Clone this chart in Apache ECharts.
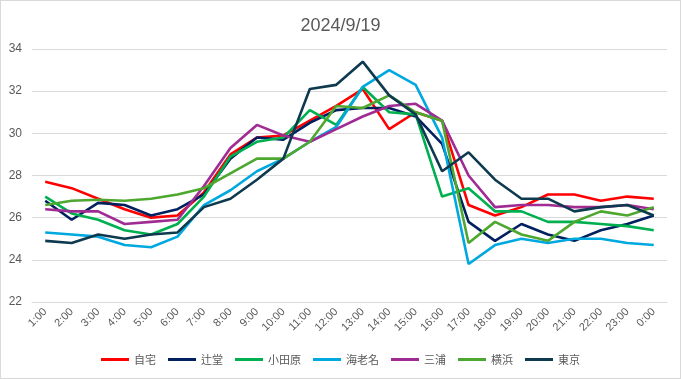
<!DOCTYPE html>
<html><head><meta charset="utf-8">
<script src="https://cdn.jsdelivr.net/npm/echarts@6/dist/echarts.min.js"></script>
<style>html,body{margin:0;padding:0;background:#fff}#c{width:679px;height:377px;border:1px solid #d9d9d9}</style>
</head><body><div id="c"></div>
<script>
const hours = ['1:00','2:00','3:00','4:00','5:00','6:00','7:00','8:00','9:00','10:00','11:00','12:00','13:00','14:00','15:00','16:00','17:00','18:00','19:00','20:00','21:00','22:00','23:00','0:00'];
const jitaku   = [27.7,27.4,26.9,26.4,26.0,26.1,27.2,29.0,29.8,29.9,30.6,31.3,32.1,30.2,31.0,30.6,26.6,26.1,26.5,27.1,27.1,26.8,27.0,26.9];
const tsujido  = [26.8,25.9,26.7,26.6,26.1,26.4,27.1,28.8,29.8,29.7,30.5,31.1,31.2,31.2,30.8,29.5,25.8,24.9,25.7,25.2,24.9,25.4,25.7,26.1];
const odawara  = [27.0,26.2,25.9,25.4,25.2,25.7,27.0,28.9,29.6,29.8,31.1,30.4,32.2,31.0,30.9,27.0,27.4,26.3,26.3,25.8,25.8,25.7,25.6,25.4];
const ebina    = [25.3,25.2,25.1,24.7,24.6,25.1,26.6,27.3,28.2,28.8,29.6,30.3,32.2,33.0,32.3,29.8,23.8,24.7,25.0,24.8,25.0,25.0,24.8,24.7];
const miura    = [26.4,26.3,26.3,25.7,25.8,25.9,27.5,29.3,30.4,29.9,29.6,30.2,30.8,31.3,31.4,30.6,28.0,26.5,26.6,26.6,26.5,26.5,26.6,26.4];
const yokohama = [26.6,26.8,26.85,26.8,26.9,27.1,27.4,28.1,28.8,28.8,29.6,31.3,31.2,31.8,31.0,30.6,24.8,25.8,25.2,24.9,25.8,26.3,26.1,26.5];
const tokyo    = [24.9,24.8,25.2,25.0,25.2,25.3,26.5,26.9,27.8,28.8,32.1,32.3,33.4,31.8,30.9,28.2,29.1,27.8,26.9,26.9,26.3,26.5,26.6,26.1];
const names = ['自宅','辻堂','小田原','海老名','三浦','横浜','東京'];
const colors = ['#FF0000','#002060','#00B050','#00A8E0','#A02B93','#4EA72E','#0E3A4F'];
const datas = [jitaku,tsujido,odawara,ebina,miura,yokohama,tokyo];

const chart = echarts.init(document.getElementById('c'));
const latin = 'Liberation Sans, Arial, sans-serif';
const cjk = 'Noto Sans CJK JP, Noto Sans, sans-serif';
chart.setOption({
  animation:false,
  title:{text:'2024/9/19',left:'center',top:11,textStyle:{fontSize:18,fontWeight:'normal',color:'#595959',fontFamily:latin}},
  grid:{left:31,right:13,top:48,bottom:76},
  legend:{bottom:8,icon:'rect',itemWidth:28,itemHeight:3,itemGap:12,textStyle:{color:'#595959',fontSize:11,fontFamily:cjk},data:names},
  xAxis:{type:'category',data:hours,boundaryGap:true,
    axisLine:{lineStyle:{color:'#d9d9d9'}},axisTick:{show:false},
    axisLabel:{rotate:45,color:'#595959',fontSize:11,fontFamily:latin,interval:0,margin:8}},
  yAxis:{type:'value',min:22,max:34,interval:2,
    axisLine:{show:false},axisTick:{show:false},
    splitLine:{lineStyle:{color:'#d9d9d9'}},
    axisLabel:{color:'#595959',fontSize:12,fontFamily:latin,margin:10}},
  series:names.map((n,i)=>({name:n,type:'line',data:datas[i],showSymbol:false,symbol:'none',
    lineStyle:{width:2.6,color:colors[i]},itemStyle:{color:colors[i]}}))
});
</script></body></html>
